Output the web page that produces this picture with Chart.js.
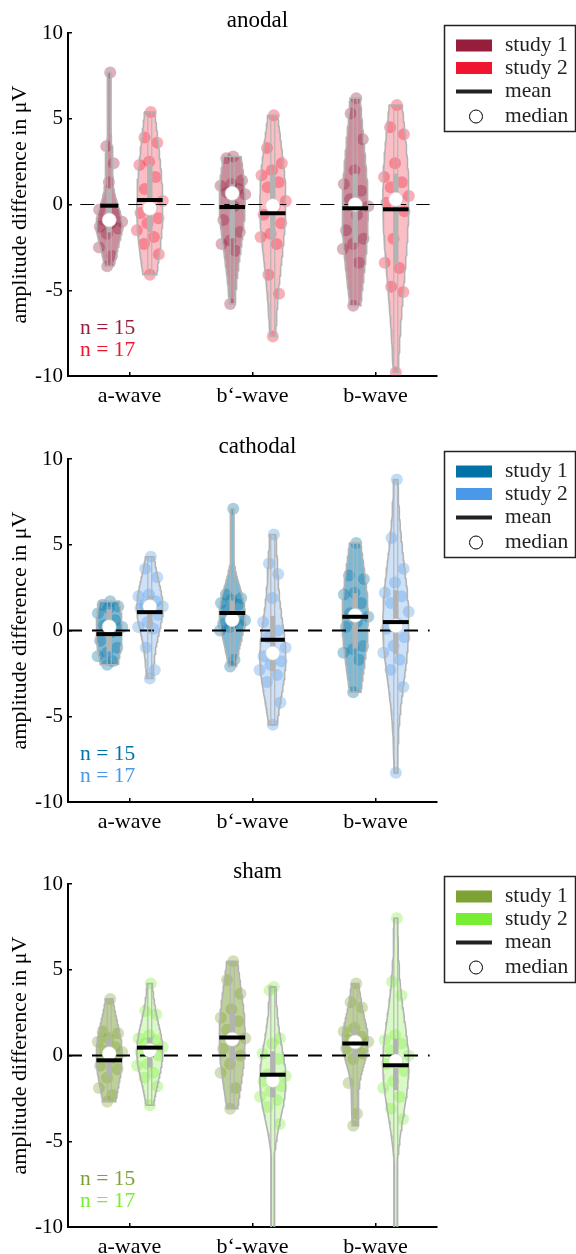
<!DOCTYPE html>
<html>
<head>
<meta charset="utf-8">
<script src="https://cdn.jsdelivr.net/npm/chart.js@4.4.1/dist/chart.umd.min.js"></script>
<style>
  html, body { margin: 0; padding: 0; background: #fff; }
  body { width: 576px; height: 1254px; position: relative; overflow: hidden; }
  canvas { position: absolute; left: 0; }
</style>
</head>
<body>
<canvas id="anodal" width="576" height="418" style="top:0px"></canvas>
<canvas id="cathodal" width="576" height="418" style="top:426px"></canvas>
<canvas id="sham" width="576" height="418" style="top:851px"></canvas>
<script>
// categories and ticks
const categories = ['a-wave', 'b‘-wave', 'b-wave'];
const yTicks = [-10, -5, 0, 5, 10];
const sampleSizes = [15, 17];

// anodal (one list per wave)
const anodalStudy1 = [
  [7.7, 3.4, 2.4, 1.3, -0.3, -0.5, -0.9, -1.0, -1.1, -1.3, -1.4, -1.7, -2.5, -3.0, -3.6],
  [2.8, 2.7, 1.4, 1.2, 1.1, 0.9, 0.7, 0.6, -0.1, -0.9, -1.6, -2.1, -2.3, -2.7, -5.8],
  [6.2, 5.3, 3.8, 2.0, 1.2, 0.8, 0.3, -0.1, -0.6, -1.5, -2.0, -2.3, -2.6, -3.4, -5.9]
];
const anodalStudy2 = [
  [5.4, 3.9, 3.6, 2.5, 2.3, 1.6, 0.9, 0.2, -0.2, -0.5, -0.8, -1.1, -1.5, -1.9, -2.3, -2.9, -4.1],
  [5.2, 3.3, 2.4, 2.0, 1.7, 1.3, 1.0, 0.2, -0.1, -0.6, -1.1, -1.7, -1.9, -2.3, -4.1, -5.2, -7.7],
  [5.8, 4.5, 4.1, 2.4, 1.6, 1.3, 1.0, 0.5, 0.3, 0.1, -0.4, -2.0, -3.4, -3.7, -4.8, -5.1, -9.8]
];
const anodalMean1 = [-0.07, -0.15, -0.22];
const anodalMean2 = [0.26, -0.51, -0.28];
const anodalMedian1 = [-0.9, 0.65, 0.0];
const anodalMedian2 = [-0.22, -0.07, 0.3];

// cathodal
const cathodalStudy1 = [
  [1.7, 1.5, 1.4, 1.3, 1.0, 0.6, 0.3, 0.2, -0.1, -0.6, -1.0, -1.3, -1.5, -1.8, -2.0],
  [7.1, 2.1, 1.9, 1.8, 1.6, 1.5, 1.2, 0.6, 0.5, 0.4, 0.3, 0.2, 0.0, -1.7, -2.1],
  [5.1, 3.2, 3.0, 2.2, 2.1, 1.6, 1.0, 0.8, 0.5, 0.2, -0.9, -1.1, -1.3, -1.7, -3.6]
];
const cathodalStudy2 = [
  [4.3, 3.6, 3.1, 2.1, 2.0, 1.7, 1.5, 1.4, 1.4, 1.3, 0.9, 0.5, 0.2, 0.1, -1.0, -2.3, -2.8],
  [5.6, 3.9, 3.3, 1.9, 0.5, 0.0, -0.4, -1.0, -1.3, -1.5, -1.8, -2.0, -2.3, -2.6, -3.0, -4.2, -5.5],
  [8.8, 5.4, 3.6, 2.8, 2.2, 2.0, 1.6, 1.1, 0.4, 0.1, -0.4, -0.9, -1.3, -1.7, -2.3, -3.3, -8.3]
];
const cathodalMean1 = [-0.21, 1.02, 0.8];
const cathodalMean2 = [1.07, -0.54, 0.49];
const cathodalMedian1 = [0.22, 0.63, 0.88];
const cathodalMedian2 = [1.4, -1.32, 0.27];

// sham
const shamStudy1 = [
  [3.3, 1.4, 1.3, 1.0, 0.8, 0.5, 0.3, 0.2, -0.2, -0.6, -0.8, -1.3, -1.9, -2.3, -2.7],
  [5.5, 4.4, 3.6, 2.7, 2.2, 2.0, 1.5, 1.0, 0.8, 0.4, 0.0, -0.5, -1.0, -1.9, -3.1],
  [4.2, 3.1, 2.8, 1.6, 1.4, 1.1, 0.9, 0.8, 0.6, 0.4, 0.1, -0.2, -1.6, -3.4, -4.1]
];
const shamStudy2 = [
  [4.2, 2.6, 2.4, 1.2, 1.0, 0.9, 0.7, 0.5, 0.4, 0.2, 0.0, -0.5, -0.6, -1.0, -1.3, -1.8, -2.9],
  [4.0, 3.8, 1.0, 0.7, 0.1, -0.2, -1.1, -1.2, -1.4, -1.5, -1.8, -2.1, -2.4, -2.6, -3.0, -4.0, -14.0],
  [8.0, 4.3, 3.5, 1.2, 0.9, 0.7, 0.3, 0.0, -0.4, -0.5, -0.9, -1.5, -1.9, -2.4, -3.1, -3.7, -14.0]
];
const shamMean1 = [-0.28, 1.05, 0.7];
const shamMean2 = [0.46, -1.12, -0.57];
const shamMedian1 = [0.11, 0.95, 0.79];
const shamMedian2 = [0.3, -1.45, -0.32];

const panels = [
  { id: 'anodal', study: [anodalStudy1, anodalStudy2], mean: [anodalMean1, anodalMean2], median: [anodalMedian1, anodalMedian2],
    colors: ['#961d3c', '#f0152e'], dashWidth: 1, dashFrom: 0.6 },
  { id: 'cathodal', study: [cathodalStudy1, cathodalStudy2], mean: [cathodalMean1, cathodalMean2], median: [cathodalMedian1, cathodalMedian2],
    colors: ['#0072a5', '#4a98e8'], dashWidth: 2, dashFrom: 0.5 },
  { id: 'sham', study: [shamStudy1, shamStudy2], mean: [shamMean1, shamMean2], median: [shamMedian1, shamMedian2],
    colors: ['#7da233', '#77ee33'], dashWidth: 2, dashFrom: 0.5 }
];

const OFFSET = 0.165;     // violin offset from the category
const HALF_W = 0.105;     // max half width of a violin
const MIN_W = 0.012;
const WHISKER_W = 0.016;
const BW_SCALE = 1.6;     // smoother than the plain ksdensity width
const GREY = '#b3b3b3';
const FONT = "'Liberation Serif', 'Times New Roman', serif";

Chart.defaults.font.family = FONT;
Chart.defaults.color = '#000';

function rgba(hex, a) {
  const n = parseInt(hex.slice(1), 16);
  return 'rgba(' + (n >> 16) + ',' + ((n >> 8) & 255) + ',' + (n & 255) + ',' + a + ')';
}

function quantile(sorted, p) {
  const n = sorted.length;
  const pos = p * n - 0.5;
  if (pos <= 0) return sorted[0];
  if (pos >= n - 1) return sorted[n - 1];
  const i = Math.floor(pos), f = pos - i;
  return sorted[i] + f * (sorted[i + 1] - sorted[i]);
}

// kernel density like matlab ksdensity, cut at min / max
function violinProfile(vals) {
  const s = vals.slice().sort((a, b) => a - b);
  const n = s.length;
  const med = quantile(s, 0.5);
  const mad = quantile(s.map(v => Math.abs(v - med)).sort((a, b) => a - b), 0.5);
  const bw = BW_SCALE * (mad / 0.6745) * Math.pow(4 / (3 * n), 0.2);
  const lo = s[0], hi = s[n - 1];
  const ys = [], dens = [];
  for (let j = 0; j <= 80; j++) {
    const y = lo + (hi - lo) * j / 80;
    let d = 0;
    s.forEach(v => { d += Math.exp(-0.5 * Math.pow((y - v) / bw, 2)); });
    ys.push(y);
    dens.push(d);
  }
  const dmax = Math.max(...dens);
  return { ys, ws: dens.map(d => Math.max(HALF_W * d / dmax, MIN_W)), lo, hi,
    q1: quantile(s, 0.25), q3: quantile(s, 0.75) };
}

function widthAt(p, y) {
  if (y <= p.lo || y >= p.hi) return MIN_W;
  const t = (y - p.lo) / (p.hi - p.lo) * 80;
  const j = Math.floor(t), f = t - j;
  return p.ws[j] + f * (p.ws[j + 1] - p.ws[j]);
}

function lineSet(data, color, width, order, extra) {
  return Object.assign({ type: 'line', data: data, borderColor: color, borderWidth: width,
    pointRadius: 0, tension: 0, fill: false, order: order }, extra || {});
}

function buildDatasets(panel) {
  const sets = [];
  const medianPts = [];
  categories.forEach((cat, i) => {
    [0, 1].forEach(k => {
      const vals = panel.study[k][i];
      const cx = i + 1 + (k ? OFFSET : -OFFSET);
      const p = violinProfile(vals);
      const color = panel.colors[k];

      const right = p.ys.map((y, j) => ({ x: cx + p.ws[j], y: y }));
      const left = p.ys.map((y, j) => ({ x: cx - p.ws[j], y: y })).reverse();
      const shape = right.concat(left, [right[0]]);
      sets.push(lineSet(shape, GREY, 1.6, 5, { fill: 'shape', backgroundColor: rgba(color, k ? 0.28 : 0.5) }));

      // spread the dots over the violin width, deterministic pattern
      const pts = vals.map((v, j) => {
        const jit = (((j + 1) * 0.6180339887) % 1) * 2 - 1;
        return { x: cx + jit * (widthAt(p, v) * 0.9 + 0.025), y: v };
      });
      sets.push({ type: 'scatter', data: pts, pointRadius: 6, pointBorderWidth: 0,
        backgroundColor: rgba(color, 0.34), order: 6 });

      const ww = WHISKER_W;
      sets.push(lineSet([{ x: cx - ww, y: p.lo }, { x: cx - ww, y: p.hi }, { x: cx + ww, y: p.hi },
        { x: cx + ww, y: p.lo }, { x: cx - ww, y: p.lo }], GREY, 1.1, 3));
      sets.push(lineSet([{ x: cx, y: p.q1 }, { x: cx, y: p.q3 }], GREY, 5, 2, { borderCapStyle: 'butt' }));

      const m = panel.mean[k][i];
      const mw = widthAt(p, m);
      sets.push(lineSet([{ x: cx - mw, y: m }, { x: cx + mw, y: m }], '#000', 4, 0, { borderCapStyle: 'butt' }));

      medianPts.push({ x: cx, y: panel.median[k][i] });
    });
  });
  sets.push({ type: 'scatter', data: medianPts, pointRadius: 7, backgroundColor: '#fff',
    pointBorderColor: '#d0d0d0', pointBorderWidth: 0.6, order: 1 });
  sets.push(lineSet([{ x: panel.dashFrom, y: 0 }, { x: 3.44, y: 0 }], '#000', panel.dashWidth, 4,
    { borderDash: [14, 10] }));
  return sets;
}

// title, legend box and n labels
function decorations(panel) {
  return {
    id: 'decor',
    afterDraw(chart) {
      const ctx = chart.ctx;
      const area = chart.chartArea;
      ctx.save();
      ctx.fillStyle = '#000';
      ctx.font = '23px ' + FONT;
      ctx.textAlign = 'center';
      ctx.textBaseline = 'alphabetic';
      ctx.fillText(panel.id, (area.left + area.right) / 2 + 5, 27);

      ctx.textAlign = 'left';
      ctx.font = '21.5px ' + FONT;
      ctx.fillStyle = panel.colors[0];
      ctx.fillText('n = ' + sampleSizes[0], area.left + 12, area.bottom - 42);
      ctx.fillStyle = panel.colors[1];
      ctx.fillText('n = ' + sampleSizes[1], area.left + 12, area.bottom - 20);

      // legend
      ctx.fillStyle = '#fff';
      ctx.fillRect(444.5, 25.5, 131, 106);
      ctx.strokeStyle = '#222';
      ctx.lineWidth = 1.5;
      ctx.strokeRect(444.5, 25.5, 131, 106);
      const rows = [45.5, 68, 91.5, 116.5];
      ctx.fillStyle = panel.colors[0];
      ctx.fillRect(456, rows[0] - 6, 36, 12);
      ctx.fillStyle = panel.colors[1];
      ctx.fillRect(456, rows[1] - 6, 36, 12);
      ctx.fillStyle = '#222';
      ctx.fillRect(456, rows[2] - 2, 36, 4);
      ctx.beginPath();
      ctx.arc(476, rows[3], 6.5, 0, Math.PI * 2);
      ctx.fillStyle = '#fff';
      ctx.fill();
      ctx.strokeStyle = '#000';
      ctx.lineWidth = 1;
      ctx.stroke();
      ctx.fillStyle = '#222';
      ctx.textBaseline = 'middle';
      ['study 1', 'study 2', 'mean', 'median'].forEach((t, i) => ctx.fillText(t, 505, rows[i]));
      ctx.restore();
    }
  };
}

panels.forEach(panel => {
  new Chart(document.getElementById(panel.id), {
    type: 'scatter',
    data: { datasets: buildDatasets(panel) },
    options: {
      responsive: false,
      animation: false,
      events: [],
      layout: { padding: { top: 33, right: 139, bottom: 0, left: 0 } },
      plugins: { legend: { display: false }, title: { display: false }, tooltip: { enabled: false } },
      scales: {
        x: {
          type: 'linear', min: 0.5, max: 3.5,
          afterBuildTicks: s => { s.ticks = categories.map((c, i) => ({ value: i + 1 })); },
          afterFit: s => { s.height = 42; },
          ticks: { callback: v => categories[v - 1], font: { size: 22 }, padding: 11, maxRotation: 0 },
          grid: { display: true, drawOnChartArea: false, drawTicks: true, tickLength: -4, color: '#000', lineWidth: 1.5 },
          border: { display: true, color: '#000', width: 2 }
        },
        y: {
          type: 'linear', min: -10, max: 10,
          afterBuildTicks: s => { s.ticks = yTicks.map(v => ({ value: v })); },
          afterFit: s => { s.width = 68; },
          ticks: { callback: v => String(v), font: { size: 21 }, padding: 9 },
          grid: { display: true, drawOnChartArea: false, drawTicks: true, tickLength: -4, color: '#000', lineWidth: 1.5 },
          border: { display: true, color: '#000', width: 2 },
          title: { display: true, text: 'amplitude difference in μV', font: { size: 22 }, padding: { top: 7, bottom: 0 } }
        }
      }
    },
    plugins: [decorations(panel)]
  });
});
</script>
</body>
</html>
